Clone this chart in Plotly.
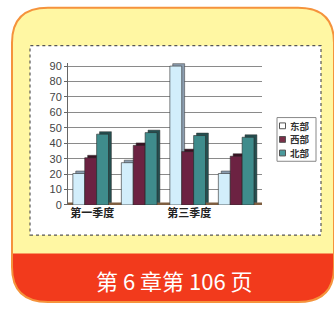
import plotly.graph_objects as go

W, H = 334, 310

categories = ["第一季度", "第二季度", "第三季度", "第四季度"]
shown_ticks = ["第一季度", "第三季度"]
series_names = ["东部", "西部", "北部"]
east = [20.4, 27.4, 90, 20.4]
west = [30.6, 38.6, 34.6, 31.6]
north = [45.9, 46.9, 45, 43.9]
y_ticks = [0, 10, 20, 30, 40, 50, 60, 70, 80, 90]
page_label = "第 6 章第 106 页"

front_colors = ["#D2EEFB", "#6C2242", "#3F8C8C"]
side_colors = ["#8C9EB0", "#3A1022", "#244F50"]
legend_swatch = ["#FFFFFF", "#7A2E48", "#4A9A9C"]

def px(x):
    return x / W

def py(y):
    return 1 - y / H

def rounded_path(x0, y0, x1, y1, r, top=True):
    pts = []
    if top:
        pts.append(f"M {px(x0+r)},{py(y0)} L {px(x1-r)},{py(y0)} Q {px(x1)},{py(y0)} {px(x1)},{py(y0+r)}")
    else:
        pts.append(f"M {px(x0)},{py(y0)} L {px(x1)},{py(y0)}")
    pts.append(f"L {px(x1)},{py(y1-r)} Q {px(x1)},{py(y1)} {px(x1-r)},{py(y1)}")
    pts.append(f"L {px(x0+r)},{py(y1)} Q {px(x0)},{py(y1)} {px(x0)},{py(y1-r)}")
    if top:
        pts.append(f"L {px(x0)},{py(y0+r)} Q {px(x0)},{py(y0)} {px(x0+r)},{py(y0)} Z")
    else:
        pts.append("Z")
    return " ".join(pts)

fig = go.Figure()

bw = 0.245
offsets = [-0.40, -0.40 + bw, -0.40 + 2 * bw]
depth_x = 0.06
depth_y = 1.6

all_vals = [east, west, north]
# depth (side/top faces) first
for i, vals in enumerate(all_vals):
    fig.add_trace(go.Bar(
        x=categories, y=vals, base=[depth_y] * len(vals),
        offset=offsets[i] + depth_x, width=bw,
        marker=dict(color=side_colors[i], line=dict(width=0.5, color="#333")),
        showlegend=False, hoverinfo="skip"))
for i, vals in enumerate(all_vals):
    fig.add_trace(go.Bar(
        x=categories, y=vals, name=series_names[i],
        offset=offsets[i], width=bw, showlegend=False,
        marker=dict(color=front_colors[i], line=dict(width=0.6, color="#2a2a2a"))))

BX0, BY0, BX1, BY1, R = 12, 5, 334, 308, 36
shapes = [
    # yellow rounded panel
    dict(type="path", xref="paper", yref="paper", layer="below",
         path=rounded_path(BX0, BY0, BX1, BY1, R),
         fillcolor="#FFF7A3", line=dict(width=0)),
    # red banner
    dict(type="path", xref="paper", yref="paper", layer="below",
         path=rounded_path(BX0, 258, BX1, BY1, R, top=False),
         fillcolor="#F23A1C", line=dict(width=0)),
    # orange outline
    dict(type="path", xref="paper", yref="paper", layer="below",
         path=rounded_path(BX0, BY0, BX1, BY1, R),
         fillcolor="rgba(0,0,0,0)", line=dict(width=2, color="#F5933C")),
    # white chart area
    dict(type="rect", xref="paper", yref="paper", layer="below",
         x0=px(30), x1=px(321), y0=py(239), y1=py(44),
         fillcolor="white", line=dict(width=1.2, color="#555", dash="dot")),
    # floor
    dict(type="line", xref="x", yref="y", layer="below",
         x0=-0.5, x1=3.5, y0=0.6, y1=0.6,
         line=dict(width=3, color="#7E5E40")),
    # legend box
    dict(type="rect", xref="paper", yref="paper", layer="above",
         x0=px(277), x1=px(316), y0=py(163), y1=py(118),
         fillcolor="white", line=dict(width=1, color="#888")),
]

annotations = [dict(text=page_label, xref="paper", yref="paper",
                    x=px(174), y=py(285), xanchor="center", yanchor="middle",
                    showarrow=False,
                    font=dict(size=22, color="white", family="Noto Sans CJK SC"))]

legend_mid = 140.5
line_step = 14
for i, name in enumerate(series_names):
    yc = legend_mid + (i - 1) * line_step
    shapes.append(dict(type="rect", xref="paper", yref="paper", layer="above",
                       x0=px(279.5), x1=px(285.5), y0=py(yc + 3), y1=py(yc - 3),
                       fillcolor=legend_swatch[i], line=dict(width=1, color="#555")))
    annotations.append(dict(text=name, xref="paper", yref="paper",
                            x=px(289), y=py(yc), xanchor="left", yanchor="middle",
                            showarrow=False, borderpad=0,
                            font=dict(size=9.5, color="#333", weight="bold",
                                      family="Noto Sans CJK SC")))

fig.update_layout(
    width=W, height=H,
    margin=dict(l=0, r=0, t=0, b=0),
    paper_bgcolor="white",
    plot_bgcolor="rgba(0,0,0,0)",
    barmode="overlay",
    showlegend=False,
    shapes=shapes,
    annotations=annotations,
    font=dict(family="Noto Sans CJK SC", color="#222"),
    xaxis=dict(domain=[px(68), px(262)], range=[-0.5, 3.5],
               categoryorder="array", categoryarray=categories,
               tickmode="array", tickvals=shown_ticks, ticktext=shown_ticks,
               showgrid=False, showline=False, ticks="",
               tickfont=dict(size=11, family="Noto Sans CJK SC", color="#222",
                             weight="bold")),
    yaxis=dict(domain=[py(208), py(208 - (208 - 65) * 92 / 90)], range=[0, 92],
               tickmode="array", tickvals=y_ticks,
               showgrid=True, gridcolor="#8a8a8a", gridwidth=0.8,
               showline=True, linecolor="#666", linewidth=1,
               ticks="outside", ticklen=3, tickcolor="#666",
               zeroline=False,
               tickfont=dict(size=11, family="Liberation Sans", color="#444")),
)

fig.write_html("out.html", config={"displayModeBar": False},
               post_script="document.body.style.margin='0';")
